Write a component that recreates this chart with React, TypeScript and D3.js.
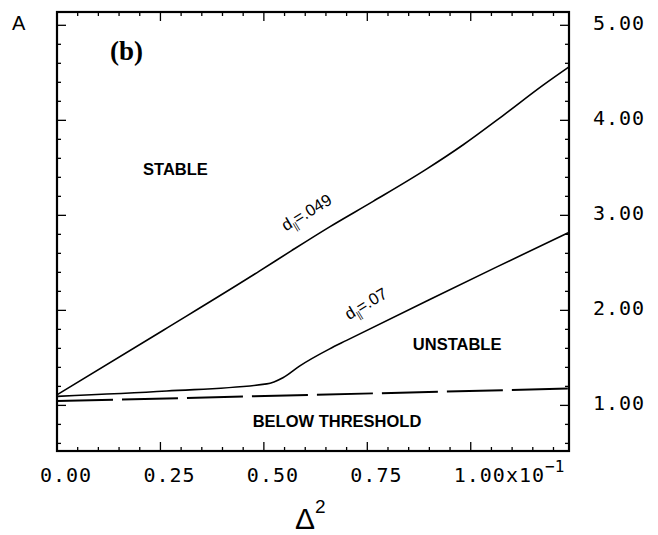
import React from 'react';
import * as d3 from 'd3';

// Data (Δ² in units of 10^-1, A)
const upperX = [0, 0.257, 0.49, 0.567, 0.659, 0.764, 0.893, 0.981, 1.078, 1.175, 1.2375];
const upperA = [1.112, 1.791, 2.415, 2.629, 2.879, 3.147, 3.486, 3.74, 4.05, 4.37, 4.562];
const lowerX = [0, 0.265, 0.507, 0.546, 0.587, 0.659, 0.7, 0.901, 1.062, 1.2375];
const lowerA = [1.095, 1.151, 1.226, 1.291, 1.416, 1.595, 1.684, 2.115, 2.455, 2.821];
const threshX = [0, 1.2375];
const threshA = [1.045, 1.177];

const xMajor = [0, 0.25, 0.5, 0.75, 1.0];
const xTickLabels = ['0.00', '0.25', '0.50', '0.75', '1.00x10'];
const yMajor = [1, 2, 3, 4, 5];
const yTickLabels = ['1.00', '2.00', '3.00', '4.00', '5.00'];

const regionLabels = ['STABLE', 'UNSTABLE', 'BELOW THRESHOLD'];
const regionX = [0.208, 0.86, 0.473];
const regionY = [3.425, 1.583, 0.773];

const curveLabelValues = ['.049', '.07'];
const curveLabelX = [0.553, 0.706];
const curveLabelY = [2.83, 1.895];

const W = 658;
const H = 535;
const left = 57, right = 569, top = 12, bottom = 451;

export default function App() {
  const x = d3.scaleLinear().domain([0, 1.2375]).range([left, right]);
  const y = d3.scaleLinear().domain([0.52, 5.14]).range([bottom, top]);

  const line = d3
    .line<[number, number]>()
    .x((d) => x(d[0]))
    .y((d) => y(d[1]))
    .curve(d3.curveMonotoneX);

  const upper = upperX.map((v, i) => [v, upperA[i]] as [number, number]);
  const lower = lowerX.map((v, i) => [v, lowerA[i]] as [number, number]);
  const thresh = threshX.map((v, i) => [v, threshA[i]] as [number, number]);

  const xTicks = d3.range(0, 25).map((i) => i * 0.05);
  const yTicks = d3.range(3, 26).map((i) => i * 0.2);

  const isMajorX = (v: number) => Math.abs(v / 0.25 - Math.round(v / 0.25)) < 1e-6;
  const isMajorY = (v: number) => Math.abs(v - Math.round(v)) < 1e-6;

  const mono = "'DejaVu Sans Mono', monospace";
  const sans = "'Liberation Sans', Arial, sans-serif";

  return (
    <svg width={W} height={H} style={{ display: 'block', position: 'absolute', left: 0, top: 0, background: '#fff' }}>
      <rect x={0} y={0} width={W} height={H} fill="#fff" />
      {/* ticks */}
      {xTicks.map((v, i) => {
        const len = isMajorX(v) ? 9 : 4;
        return (
          <g key={'xt' + i} stroke="#000" strokeWidth={1.3}>
            <line x1={x(v)} x2={x(v)} y1={bottom} y2={bottom - len} />
            <line x1={x(v)} x2={x(v)} y1={top} y2={top + len} />
          </g>
        );
      })}
      {yTicks.map((v, i) => {
        const len = isMajorY(v) ? 9 : 4;
        return (
          <g key={'yt' + i} stroke="#000" strokeWidth={1.3}>
            <line x1={left} x2={left + len} y1={y(v)} y2={y(v)} />
            <line x1={right} x2={right - len} y1={y(v)} y2={y(v)} />
          </g>
        );
      })}
      {/* frame */}
      <rect x={left} y={top} width={right - left} height={bottom - top} fill="none" stroke="#000" strokeWidth={2.2} />

      {/* curves */}
      <path d={line(upper) || ''} fill="none" stroke="#000" strokeWidth={1.6} />
      <path d={line(lower) || ''} fill="none" stroke="#000" strokeWidth={1.6} />
      <path d={line(thresh) || ''} fill="none" stroke="#000" strokeWidth={2} strokeDasharray="56 9" />

      {/* x tick labels */}
      {xMajor.map((v, i) => (
        <text key={'xl' + i} x={x(v) - 17} y={482} fontFamily={mono} fontSize={20} letterSpacing={1} fill="#000">
          {xTickLabels[i]}
          {i === xMajor.length - 1 ? (
            <tspan dy={-10} fontSize={16} letterSpacing={0}>−1</tspan>
          ) : null}
        </text>
      ))}
      {/* y tick labels (right) */}
      {yMajor.map((v, i) => (
        <text key={'yl' + i} x={593} y={y(v) + 5} fontFamily={mono} fontSize={20} letterSpacing={1} fill="#000">
          {yTickLabels[i]}
        </text>
      ))}

      {/* axis titles */}
      <text x={12} y={30} fontFamily={sans} fontSize={20} fill="#000">A</text>
      <text x={295} y={529} fontFamily={sans} fontSize={30} fill="#000">
        Δ<tspan dy={-16} fontSize={19}>2</tspan>
      </text>

      {/* panel label */}
      <text x={x(0.128)} y={y(4.635)} fontFamily="'Liberation Serif', 'Times New Roman', serif" fontWeight="bold" fontSize={27} fill="#000">(b)</text>

      {/* region labels */}
      {regionLabels.map((t, i) => (
        <text key={'rl' + i} x={x(regionX[i])} y={y(regionY[i])} fontFamily={sans} fontWeight="bold" fontSize={16.5} fill="#000">
          {t}
        </text>
      ))}

      {/* curve labels */}
      {curveLabelValues.map((t, i) => (
        <text
          key={'cl' + i}
          transform={`translate(${x(curveLabelX[i])},${y(curveLabelY[i])}) rotate(-31)`}
          fontFamily={sans}
          fontSize={16.5}
          fill="#000"
        >
          d<tspan dy={4} fontSize={10} letterSpacing={-0.5}>||</tspan>
          <tspan dy={-4}>={t}</tspan>
        </text>
      ))}
    </svg>
  );
}
